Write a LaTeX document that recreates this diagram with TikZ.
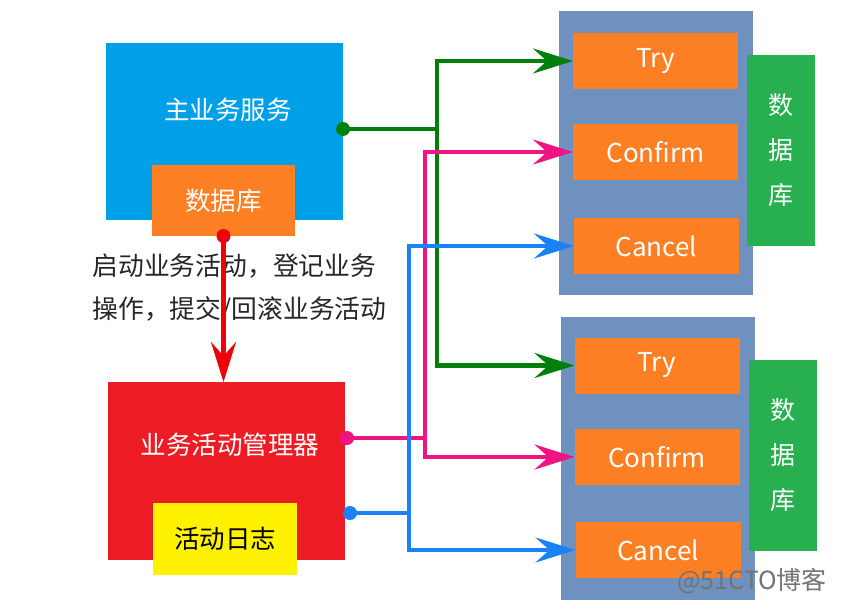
\documentclass[tikz,border=0pt]{standalone}
\usepackage{fontspec}
\setmainfont{Noto Sans CJK SC}
\usetikzlibrary{arrows.meta}
\definecolor{mainblue}{RGB}{0,160,233}
\definecolor{boxorange}{RGB}{253,127,35}
\definecolor{mgrred}{RGB}{237,28,36}
\definecolor{logyellow}{RGB}{255,242,0}
\definecolor{dbgreen}{RGB}{40,175,80}
\definecolor{contblue}{RGB}{111,145,192}
\definecolor{arrgreen}{RGB}{0,128,10}
\definecolor{arrpink}{RGB}{238,20,130}
\definecolor{arrblue}{RGB}{25,130,245}
\definecolor{arrred}{RGB}{240,0,10}
\tikzset{
  blk/.style={draw=none, inner sep=0pt, outer sep=0pt, anchor=center},
  cjkw/.style={text=white, font=\fontsize{25.5}{30}\selectfont},
  latw/.style={text=white, font=\fontsize{26}{30}\selectfont},
  opbox/.style={blk, fill=boxorange, minimum width=165pt, minimum height=56pt, latw},
  cont/.style={blk, fill=contblue, minimum width=194pt, minimum height=283pt},
  dbbox/.style={blk, fill=dbgreen, minimum width=68pt, minimum height=191pt, align=center, text=white, font=\fontsize{25}{45}\selectfont},
  conn/.style={line width=4.2pt},
  bigtip/.style={-{Stealth[length=40pt,width=25pt,inset=14pt]}}
}
\begin{document}
\begin{tikzpicture}[x=1pt,y=-1pt]
\useasboundingbox[fill=white] (0,0) rectangle (850,604);

% left side
\node[blk, fill=mainblue, minimum width=237pt, minimum height=177pt] (main) at (224.5,131.5) {};
\node[cjkw] (maintext) at (228,110) {主业务服务};
\node[blk, fill=boxorange, minimum width=143pt, minimum height=71pt, cjkw] (db1) at (223.5,200.5) {数据库};

\node[blk, fill=mgrred, minimum width=237pt, minimum height=178pt] (mgr) at (226.5,471) {};
\node[cjkw] (mgrtext) at (230,445) {业务活动管理器};
\node[blk, fill=logyellow, minimum width=144pt, minimum height=72pt, text=black, font=\fontsize{25.5}{30}\selectfont] (log) at (225,539) {活动日志};

\node[anchor=west, align=left, text=black!85, font=\fontsize{25.8}{43}\selectfont] (desc) at (89,288.5) {启动业务活动，登记业务\\操作，提交/回滚业务活动};

% right groups
\node[cont] (c1) at (656,153) {};
\node[opbox] (try1) at (655.5,61) {Try};
\node[opbox] (conf1) at (655.5,152) {Confirm};
\node[opbox] (canc1) at (656.5,246) {Cancel};
\node[dbbox] (g1) at (781,150.5) {数\\据\\库};

\node[cont] (c2) at (658,458.5) {};
\node[opbox] (try2) at (657,365.5) {Try};
\node[opbox] (conf2) at (657,457) {Confirm};
\node[opbox] (canc2) at (658,550) {Cancel};
\node[dbbox] (g2) at (783,455.5) {数\\据\\库};

% red arrow
\draw[conn, arrred, bigtip] (db1.south) -- (db1.south |- mgr.north);
\fill[arrred] (db1.south) circle (7pt);

% green
\draw[conn, arrgreen] ([yshift=2.5pt]main.east) -- ++(94,0) coordinate (gj);
\draw[conn, arrgreen, bigtip] (gj) |- (try1.west);
\draw[conn, arrgreen, bigtip] (gj) |- (try2.west);
\fill[arrgreen] ([yshift=2.5pt]main.east) circle (7pt);

% pink
\draw[conn, arrpink] ([yshift=33pt]mgr.east) -- ++(80,0) coordinate (pj);
\draw[conn, arrpink, bigtip] (pj) |- (conf1.west);
\draw[conn, arrpink, bigtip] (pj) |- (conf2.west);
\fill[arrpink] ([yshift=33pt, xshift=2pt]mgr.east) circle (7pt);

% blue
\draw[conn, arrblue] ([yshift=-42pt]mgr.east) -- ++(64,0) coordinate (bj);
\draw[conn, arrblue, bigtip] (bj) |- (canc1.west);
\draw[conn, arrblue, bigtip] (bj) |- (canc2.west);
\fill[arrblue] ([yshift=-42pt, xshift=5pt]mgr.east) circle (7pt);

% watermark
\node[text=black!55, font=\fontsize{25}{28}\selectfont] (wm) at (752,581) {@51CTO博客};
\end{tikzpicture}
\end{document}
